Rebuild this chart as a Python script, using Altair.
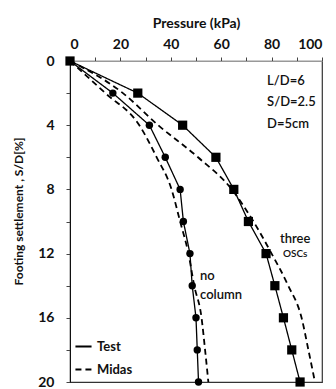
import altair as alt
import pandas as pd

# Settlement levels S/D [%]
settlement = [0, 2, 4, 6, 8, 10, 12, 14, 16, 18, 20]

# Pressure (kPa) at each settlement level
test_no_column = [0, 17, 31.5, 37.8, 43.7, 45.0, 47.6, 48.5, 50.0, 50.5, 51.0]
test_three_oscs = [0, 26.9, 44.7, 57.9, 65.0, 70.8, 77.8, 81.3, 84.7, 88.0, 91.3]
midas_no_column = [0, 14, 27.5, 34.4, 40.3, 43.7, 47.0, 49.3, 52.2, 53.6, 54.9]
midas_three_oscs = [0, 21, 35, 50.8, 64.2, 72.8, 80.0, 86.6, 91.9, 94.6, 97.2]

series = [
    ("Test", "no column", test_no_column),
    ("Test", "three OSCs", test_three_oscs),
    ("Midas", "no column", midas_no_column),
    ("Midas", "three OSCs", midas_three_oscs),
]
rows = []
for source, case, values in series:
    for s, p in zip(settlement, values):
        rows.append({"source": source, "case": case, "pressure": p, "settlement": s})
df = pd.DataFrame(rows)

# Annotation labels: text, pressure position, settlement position, size
note_text = ["L/D=6", "S/D=2.5", "D=5cm", "three", "OSCs", "no", "column"]
note_x = [78.2, 78.2, 78.2, 83.3, 84.5, 51.6, 51.6]
note_y = [1.25, 2.56, 3.94, 11.1, 12.0, 13.4, 14.6]
note_size = [13, 13, 13, 13, 10, 13, 13]
notes = pd.DataFrame({"text": note_text, "pressure": note_x,
                      "settlement": note_y, "size": note_size})

FONT = "Lato"

x_scale = alt.Scale(domain=[0, 100], nice=False)
y_scale = alt.Scale(domain=[0, 20], reverse=True, nice=False)

x_enc = alt.X(
    "pressure:Q", scale=x_scale,
    axis=alt.Axis(
        orient="top", title="Pressure (kPa)",
        values=list(range(0, 101, 10)),
        labelExpr="datum.value % 20 == 0 ? datum.label : ''",
        grid=False, tickSize=4, labelPadding=6, titlePadding=7,
        domainColor="#999", tickColor="#444",
        labelFont=FONT, labelFontSize=14, labelFontWeight="bold", labelColor="#111",
        titleFont=FONT, titleFontSize=14, titleFontWeight="bold", titleColor="#111",
    ),
)
y_enc = alt.Y(
    "settlement:Q", scale=y_scale,
    axis=alt.Axis(
        title="Footing settlement , S/D[%]",
        values=list(range(0, 21, 2)),
        labelExpr="datum.value % 4 == 0 ? datum.label : ''",
        grid=False, tickSize=4, labelPadding=12, titlePadding=12,
        titleY=150,
        domainColor="#111", tickColor="#444",
        labelFont=FONT, labelFontSize=14, labelFontWeight="bold", labelColor="#111",
        titleFont=FONT, titleFontSize=12, titleFontWeight="bold", titleColor="#111",
    ),
)

dash = alt.StrokeDash(
    "source:N",
    scale=alt.Scale(domain=["Test", "Midas"], range=[[1, 0], [6, 4]]),
    legend=alt.Legend(
        title=None, orient="none", legendX=4, legendY=276,
        symbolType="stroke", symbolStrokeWidth=2.2, symbolSize=260,
        symbolStrokeColor="black", labelFont=FONT, labelFontSize=13,
        labelFontWeight="bold", labelColor="#111", rowPadding=6,
    ),
)

test_lines = alt.Chart(df).transform_filter(alt.datum.source == "Test").mark_line(
    color="black", strokeWidth=1.3
).encode(x=x_enc, y=y_enc, detail="case:N", strokeDash=dash, order="settlement:Q")

midas_lines = alt.Chart(df).transform_filter(alt.datum.source == "Midas").mark_line(
    color="black", strokeWidth=1.8, interpolate="monotone"
).encode(x=x_enc, y=y_enc, detail="case:N", strokeDash=dash, order="settlement:Q")

markers = alt.Chart(df).transform_filter(alt.datum.source == "Test").mark_point(
    filled=True, color="black", opacity=1
).encode(
    x=x_enc, y=y_enc,
    shape=alt.Shape("case:N", scale=alt.Scale(domain=["no column", "three OSCs"],
                                               range=["circle", "square"]), legend=None),
    size=alt.Size("case:N", scale=alt.Scale(domain=["no column", "three OSCs"],
                                             range=[55, 85]), legend=None),
)

labels = alt.Chart(notes).mark_text(
    align="left", baseline="middle", font=FONT, color="#111", fontWeight=600
).encode(
    x=x_enc, y=y_enc, text="text:N",
    size=alt.Size("size:Q", scale=None, legend=None),
)

chart = alt.layer(test_lines, midas_lines, markers, labels).resolve_scale(
    size="independent"
).properties(
    width=252, height=321,
    autosize=alt.AutoSizeParams(type="none"),
    padding={"left": 70, "top": 61, "right": 14, "bottom": 7},
    background="white",
).configure_view(stroke="#333", strokeWidth=1.2)

chart.save("out.html", embed_options={"renderer": "svg", "actions": False})
